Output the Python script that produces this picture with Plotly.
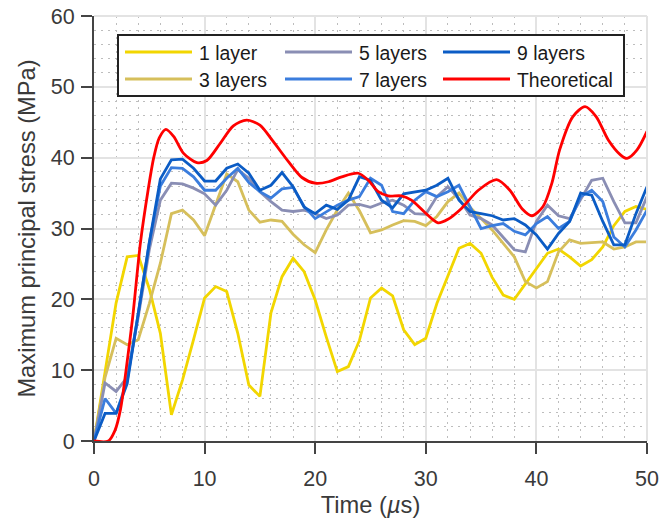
import plotly.graph_objects as go

# ---------------- data ----------------
time_us = list(range(0, 51))

layer1 = [0, 10, 19.5, 26, 26.2, 21.5, 15.2, 3.7, 8.6, 14.3, 20.2, 21.8, 21.1, 15.2, 7.9, 6.3,
          18.1, 23.2, 25.8, 23.9, 19.9, 14.7, 9.8, 10.5, 14.2, 20.2, 21.6, 20.5, 15.7, 13.6, 14.5,
          19.4, 23.2, 27.2, 27.9, 26.5, 23.1, 20.6, 20.0, 22.2, 24.4, 26.5, 27.1, 26.0, 24.7, 25.6,
          27.4, 30.4, 32.4, 33.1, 32.7]
layer3 = [0, 9, 14.5, 13.6, 14.3, 19.4, 25.1, 32.1, 32.6, 31.2, 29.0, 33.3, 37.7, 36.6, 32.6, 30.9,
          31.2, 31.0, 29.2, 27.7, 26.6, 29.8, 32.6, 35.0, 32.5, 29.4, 29.8, 30.5, 31.1, 31.0, 30.4,
          31.7, 33.8, 35.0, 33.0, 31.4, 29.8, 27.9, 26.0, 22.5, 21.6, 22.5, 26.7, 28.4, 27.9, 28.0,
          28.1, 27.1, 27.4, 28.1, 28.1]
layer5 = [0, 8.2, 7.0, 9.0, 17.5, 27, 34, 36.4, 36.3, 35.7, 34.9, 33.3, 35.4, 38.3, 37.1, 35.2,
          33.8, 32.6, 32.4, 32.6, 32.1, 31.4, 31.9, 33.3, 33.4, 33.0, 33.6, 34.0, 33.3, 32.1, 32.0,
          34.5, 35.9, 34.2, 31.9, 31.4, 30.5, 28.8, 27.0, 26.7, 31.0, 33.3, 31.8, 31.4, 34.0, 36.8,
          37.1, 33.8, 30.8, 30.8, 34.5]
layer7 = [0, 6.0, 3.9, 8.5, 18, 28, 36, 38.6, 38.5, 37.3, 35.4, 35.4, 37.1, 38.5, 36.5, 35.2,
          34.3, 35.6, 35.8, 33.1, 31.4, 32.4, 33.3, 34.0, 34.5, 37.1, 36.1, 32.4, 32.1, 34.0, 35.2,
          34.5, 35.2, 36.1, 33.0, 30.0, 30.4, 30.7, 29.6, 29.1, 30.7, 31.7, 30.0, 31.0, 34.5, 35.4,
          33.8, 28.8, 27.4, 29.8, 32.6]
layer9 = [0, 3.9, 3.9, 8.1, 18, 28, 37, 39.7, 39.8, 38.5, 36.7, 36.7, 38.5, 39.1, 37.8, 35.4,
          36.1, 37.9, 35.9, 33.0, 32.1, 33.3, 32.7, 34.0, 37.3, 36.8, 34.0, 32.9, 34.9, 35.2, 35.4,
          36.1, 37.1, 34.0, 32.4, 32.1, 31.8, 31.2, 31.4, 30.5, 29.1, 27.1, 29.3, 31.0, 35.0, 34.7,
          31.0, 27.7, 27.7, 32.1, 35.9]

theory_t = [0, 1.3, 1.9, 2.4, 2.9, 3.5, 4.2, 4.9, 5.4, 5.9, 6.5, 7.2, 8.1, 9.3, 10.2, 11.4, 12.6,
            13.8, 15.0, 16.2, 17.6, 18.8, 20.0, 21.2, 22.4, 23.9, 24.8, 25.7, 26.6, 27.8, 28.7,
            29.9, 31.1, 32.0, 33.2, 34.75, 36.4, 37.6, 38.7, 39.6, 40.6, 41.4, 42.1, 43.3, 44.4,
            45.4, 46.5, 47.6, 48.2, 49.1, 50]
theory_v = [0, 0, 1.5, 4.5, 10, 17.5, 28, 35.5, 40, 42.8, 44.0, 43.0, 40.6, 39.3, 39.6, 42.0, 44.5,
            45.3, 44.6, 42.3, 39.4, 37.2, 36.4, 36.6, 37.3, 37.8, 36.8, 35.2, 34.6, 34.6, 34.0,
            32.3, 30.8, 31.3, 32.8, 35.4, 36.9, 35.4, 32.8, 31.8, 33.1, 36.4, 41.1, 45.8, 47.2,
            45.8, 42.5, 40.4, 39.9, 41.1, 43.7]

series_names = ["1 layer", "3 layers", "5 layers", "7 layers", "9 layers", "Theoretical"]
series_colors = ["#F2D600", "#D6BF5B", "#8A8EB4", "#3B7DDD", "#0B5CC5", "#FF0000"]

x_ticks = [0, 10, 20, 30, 40, 50]
y_ticks = [0, 10, 20, 30, 40, 50, 60]

# ---------------- figure ----------------
fig = go.Figure()
sim = [layer1, layer3, layer5, layer7, layer9]
for name, col, vals in zip(series_names[:5], series_colors[:5], sim):
    fig.add_trace(go.Scatter(x=time_us, y=vals, mode="lines", name=name,
                             line=dict(color=col, width=2.8), showlegend=False))
fig.add_trace(go.Scatter(x=theory_t, y=theory_v, mode="lines", name=series_names[5],
                         line=dict(color=series_colors[5], width=2.8, shape="spline", smoothing=0.8),
                         showlegend=False))

L, R, T, B = 94, 14, 16, 86
W, H = 661, 527
pw, ph = W - L - R, H - T - B


def px_x(p):
    return (p - L) / pw


def px_y(p):
    return (H - B - p) / ph


axis_color = "#444444"
text_color = "#3a3a3a"
font_family = "Liberation Sans, Arial, sans-serif"

common = dict(
    automargin=False,
    showline=True, linecolor=axis_color, linewidth=2, mirror=False,
    ticks="outside", ticklen=11, tickwidth=2, tickcolor=axis_color,
    showgrid=True, gridcolor="#e3e3e3", gridwidth=2,
    zeroline=False,
    tickfont=dict(size=21.5, color=text_color, family=font_family),
    minor=dict(dtick=2, showgrid=True, gridcolor="#bdbdbd", gridwidth=1, griddash="2px,5px",
               ticks=""),
)

fig.update_layout(
    width=W, height=H, autosize=False,
    margin=dict(l=L, r=R, t=T, b=B, pad=0, autoexpand=False),
    paper_bgcolor="white", plot_bgcolor="white",
    font=dict(family=font_family, color=text_color),
    xaxis=dict(range=[0, 50], tickvals=x_ticks, ticklabelstandoff=6,
               title=dict(text="Time (<i>µ</i>s)", font=dict(size=23.7, color=text_color), standoff=7),
               **common),
    yaxis=dict(range=[0, 60], tickvals=y_ticks, ticklabelstandoff=2,
               title=dict(text="Maximum principal stress (MPa)", font=dict(size=23.7, color=text_color),
                          standoff=8),
               **common),
)

shapes = [
    dict(type="line", xref="paper", yref="paper", x0=0, x1=1, y0=1, y1=1,
         line=dict(color="#e3e3e3", width=2), layer="above"),
    dict(type="line", xref="paper", yref="paper", x0=1, x1=1, y0=0, y1=1,
         line=dict(color="#e3e3e3", width=2), layer="above"),
    # legend box
    dict(type="rect", xref="paper", yref="paper", x0=px_x(118), x1=px_x(624), y0=px_y(96), y1=px_y(35),
         line=dict(color="#222222", width=2), fillcolor="white", layer="above"),
]
annotations = []
col_starts = [125, 285, 443]
row_ys = [52, 79]
line_len = 67
for i, (name, col) in enumerate(zip(series_names, series_colors)):
    c, r = divmod(i, 2)
    x0 = col_starts[c]
    y = row_ys[r]
    shapes.append(dict(type="line", xref="paper", yref="paper", x0=px_x(x0), x1=px_x(x0 + line_len),
                       y0=px_y(y), y1=px_y(y), line=dict(color=col, width=2.8), layer="above"))
    annotations.append(dict(xref="paper", yref="paper", x=px_x(x0 + line_len + 5), y=px_y(y + 1),
                            text=name, showarrow=False, xanchor="left", yanchor="middle",
                            font=dict(size=19.4, color="#1a1a1a", family=font_family)))

fig.update_layout(shapes=shapes, annotations=annotations)

fig.write_html("out.html")
